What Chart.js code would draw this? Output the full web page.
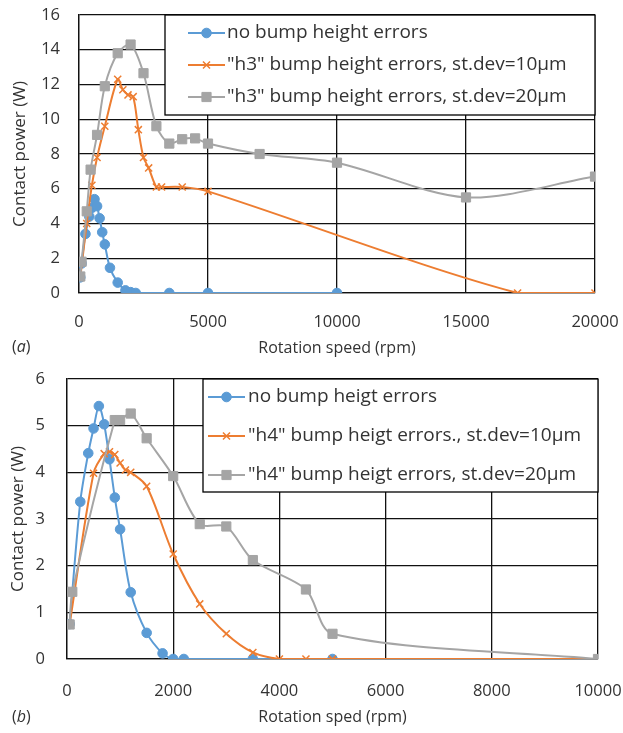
<!DOCTYPE html>
<html>
<head>
<meta charset="utf-8">
<script src="https://cdn.jsdelivr.net/npm/chart.js@4.4.0/dist/chart.umd.min.js"></script>
<style>
html, body { margin: 0; padding: 0; background: #fff; }
#wrapA { position: absolute; left: 0; top: 0; width: 623px; height: 365px; }
#wrapB { position: absolute; left: 0; top: 365px; width: 623px; height: 368px; }
</style>
</head>
<body>
<div id="wrapA"><canvas id="chartA"></canvas></div>
<div id="wrapB"><canvas id="chartB"></canvas></div>
<script>
// ---- (a) h3 ----
var labelsA = ['no bump height errors', '"h3" bump height errors, st.dev=10\u00b5m', '"h3" bump height errors, st.dev=20\u00b5m'];
var speedA1 = [50, 100, 250, 400, 500, 600, 700, 800, 900, 1000, 1200, 1500, 1800, 2000, 2200, 3500, 5000, 10000];
var powerA1 = [0.9, 1.7, 3.4, 4.4, 4.9, 5.4, 5.0, 4.3, 3.5, 2.8, 1.45, 0.6, 0.15, 0.05, 0, 0, 0, 0];
var speedA2 = [50, 300, 500, 700, 1000, 1500, 1700, 1900, 2100, 2300, 2500, 2700, 3000, 3200, 4000, 5000, 17000, 20000];
var powerA2 = [0.9, 4.0, 6.2, 7.8, 9.6, 12.3, 11.7, 11.4, 11.3, 9.4, 7.8, 7.2, 6.1, 6.1, 6.1, 5.85, 0, 0];
var speedA3 = [50, 100, 300, 450, 700, 1000, 1500, 2000, 2500, 3000, 3500, 4000, 4500, 5000, 7000, 10000, 15000, 20000];
var powerA3 = [0.95, 1.8, 4.7, 7.1, 9.1, 11.9, 13.8, 14.3, 12.65, 9.6, 8.6, 8.85, 8.9, 8.6, 8.0, 7.5, 5.5, 6.7];

// ---- (b) h4 ----
var labelsB = ['no bump heigt errors', '"h4" bump heigt errors., st.dev=10\u00b5m', '"h4" bump heigt errors, st.dev=20\u00b5m'];
var speedB1 = [50, 250, 400, 500, 600, 700, 800, 900, 1000, 1200, 1500, 1800, 2000, 2200, 3500, 5000];
var powerB1 = [0.75, 3.37, 4.41, 4.94, 5.42, 5.03, 4.28, 3.46, 2.78, 1.43, 0.56, 0.12, 0, 0, 0, 0];
var speedB2 = [50, 500, 700, 800, 900, 1000, 1100, 1200, 1500, 2000, 2500, 3000, 3500, 4000, 4500, 5000, 10000];
var powerB2 = [0.75, 3.98, 4.4, 4.44, 4.38, 4.2, 4.05, 4.0, 3.7, 2.25, 1.18, 0.54, 0.14, 0, 0, 0, 0];
var speedB3 = [50, 100, 900, 1000, 1200, 1500, 2000, 2500, 3000, 3500, 4500, 5000, 10000];
var powerB3 = [0.74, 1.44, 5.12, 5.12, 5.26, 4.73, 3.92, 2.89, 2.84, 2.12, 1.49, 0.54, 0];

var BLUE = '#5b9bd5', ORANGE = '#ed7d31', GRAY = '#a5a5a5';
var FONT = 'Open Sans';
var TXT = '#333';

function pts(xs, ys) {
    var out = [];
    for (var i = 0; i < xs.length; i++) out.push({ x: xs[i], y: ys[i] });
    return out;
}

function series(label, xs, ys, color, style, radius, order) {
    return {
        label: label,
        data: pts(xs, ys),
        borderColor: color,
        backgroundColor: color,
        pointBackgroundColor: color,
        pointBorderColor: color,
        borderWidth: 2,
        pointStyle: style,
        pointRadius: radius,
        pointBorderWidth: style === 'crossRot' ? 1.5 : 1,
        tension: 0.3,
        order: order
    };
}

// legend box inside the plot area, top right
var boxLegend = {
    id: 'boxLegend',
    afterDraw: function (chart, args, o) {
        var ctx = chart.ctx, a = chart.chartArea;
        var L = a.right - o.width, T = a.top;
        ctx.save();
        ctx.fillStyle = '#fff';
        ctx.fillRect(L, T, o.width, o.height);
        ctx.strokeStyle = '#000';
        ctx.lineWidth = 1.3;
        ctx.strokeRect(L, T, o.width, o.height);
        ctx.font = o.fontSize + 'px "' + FONT + '"';
        ctx.textBaseline = 'middle';
        chart.data.datasets.forEach(function (ds, i) {
            var y = T + o.rows[i];
            ctx.strokeStyle = ds.borderColor;
            ctx.lineWidth = ds.borderWidth;
            ctx.beginPath();
            ctx.moveTo(L + o.lineFrom, y);
            ctx.lineTo(L + o.lineTo, y);
            ctx.stroke();
            ctx.fillStyle = ds.pointBackgroundColor;
            ctx.strokeStyle = ds.pointBorderColor;
            ctx.lineWidth = ds.pointBorderWidth;
            Chart.helpers.drawPoint(ctx, { pointStyle: ds.pointStyle, radius: ds.pointRadius, borderWidth: ds.pointBorderWidth, rotation: 0 },
                L + (o.lineFrom + o.lineTo) / 2, y);
            ctx.fillStyle = TXT;
            ctx.fillText(ds.label, L + o.textX, y);
        });
        ctx.restore();
    }
};

// "(a)" / "(b)" tag, letter in italics
var panelTag = {
    id: 'panelTag',
    afterDraw: function (chart, args, o) {
        var ctx = chart.ctx;
        ctx.save();
        ctx.fillStyle = TXT;
        ctx.textBaseline = 'middle';
        var x = o.x;
        ctx.font = '16px "' + FONT + '"';
        ctx.fillText('(', x, o.y); x += ctx.measureText('(').width;
        ctx.font = 'italic 16px "' + FONT + '"';
        ctx.fillText(o.letter, x, o.y); x += ctx.measureText(o.letter).width;
        ctx.font = '16px "' + FONT + '"';
        ctx.fillText(')', x, o.y);
        ctx.restore();
    }
};

function plain(v) { return String(v); }

function makeOptions(p) {
    return {
        responsive: true,
        maintainAspectRatio: false,
        animation: false,
        layout: { padding: { left: 0, top: p.top, right: p.right, bottom: 0 } },
        plugins: {
            legend: { display: false },
            tooltip: { enabled: false },
            boxLegend: p.legend,
            panelTag: p.tag
        },
        scales: {
            x: {
                type: 'linear',
                min: 0, max: p.xMax,
                afterFit: function (s) { s.height = p.xAxisH; s.paddingLeft = 0; s.paddingRight = 0; },
                ticks: { stepSize: p.xStep, padding: p.xTickPad, color: TXT, font: { family: FONT, size: 16.5 }, callback: plain },
                grid: { color: '#111', lineWidth: 1.3, drawTicks: false },
                border: { color: '#111', width: 1.3 },
                title: { display: true, text: p.xTitle, color: TXT, font: { family: FONT, size: 16 }, padding: { top: 0, bottom: p.xTitlePad } }
            },
            y: {
                min: 0, max: p.yMax,
                afterFit: function (s) { s.width = p.yAxisW; s.paddingTop = 0; s.paddingBottom = 0; },
                ticks: { stepSize: p.yStep, padding: p.yTickPad, color: TXT, font: { family: FONT, size: 16.5 } },
                grid: { color: '#111', lineWidth: 1.3, drawTicks: false },
                border: { color: '#111', width: 1.3 },
                title: { display: true, text: 'Contact power (W)', color: TXT, font: { family: FONT, size: 17 }, padding: { top: p.yTitlePad, bottom: 0 } }
            }
        }
    };
}

new Chart(document.getElementById('chartA'), {
    type: 'line',
    data: {
        datasets: [
            series(labelsA[0], speedA1, powerA1, BLUE, 'circle', 4.8, 3),
            series(labelsA[1], speedA2, powerA2, ORANGE, 'crossRot', 5, 2),
            series(labelsA[2], speedA3, powerA3, GRAY, 'rect', 6.5, 1)
        ]
    },
    options: makeOptions({
        top: 15, right: 28, xMax: 20000, xStep: 5000, yMax: 16, yStep: 2,
        xAxisH: 72, yAxisW: 79, xTickPad: 19, yTickPad: 19, xTitlePad: 7, yTitlePad: 10,
        xTitle: 'Rotation speed (rpm)',
        legend: { width: 430, height: 100, rows: [18, 50, 82], lineFrom: 23, lineTo: 60, textX: 62, fontSize: 19 },
        tag: { letter: 'a', x: 12, y: 347 }
    }),
    plugins: [boxLegend, panelTag]
});

new Chart(document.getElementById('chartB'), {
    type: 'line',
    data: {
        datasets: [
            series(labelsB[0], speedB1, powerB1, BLUE, 'circle', 4.8, 3),
            series(labelsB[1], speedB2, powerB2, ORANGE, 'crossRot', 5, 2),
            series(labelsB[2], speedB3, powerB3, GRAY, 'rect', 6.5, 1)
        ]
    },
    options: makeOptions({
        top: 14, right: 25, xMax: 10000, xStep: 2000, yMax: 6, yStep: 1,
        xAxisH: 74, yAxisW: 67, xTickPad: 22, yTickPad: 22, xTitlePad: 6, yTitlePad: 8,
        xTitle: 'Rotation sped (rpm)',
        legend: { width: 395, height: 113, rows: [18, 57, 96], lineFrom: 5, lineTo: 42, textX: 45, fontSize: 19 },
        tag: { letter: 'b', x: 12, y: 352 }
    }),
    plugins: [boxLegend, panelTag]
});
</script>
</body>
</html>
